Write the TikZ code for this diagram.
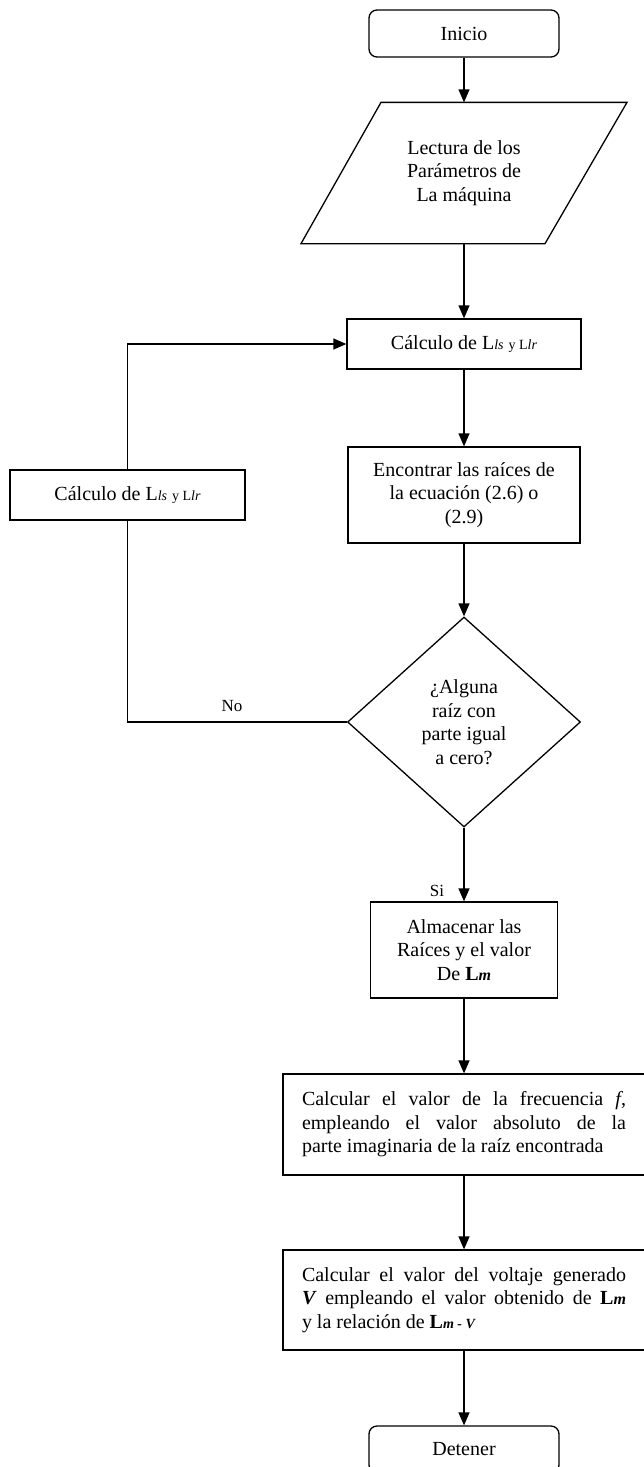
\documentclass[tikz,border=0pt]{standalone}
\usepackage{fontspec}
\setmainfont{Liberation Serif}
\usetikzlibrary{arrows.meta,shapes.geometric}
\newcommand{\chico}[1]{{\fontsize{14}{14}\selectfont #1}}
\newcommand{\ancho}[1]{\makebox[324pt][s]{#1}}
\begin{document}
\begin{tikzpicture}[x=1pt,y=-1pt,line width=1.3pt,
  every node/.style={font=\fontsize{20}{23.5}\selectfont},
  term/.style={draw,rounded corners=8pt,minimum width=190pt,minimum height=47pt},
  caja/.style={draw,align=center,inner sep=4pt},
  datos/.style={minimum width=246pt,minimum height=140pt,align=center},
  rombo/.style={draw,diamond,minimum width=233pt,minimum height=210pt,inner sep=0pt,align=center},
  flecha/.style={-{Triangle[length=13pt,width=11pt]}},
  etiq/.style={font=\fontsize{17}{17}\selectfont}]
  \useasboundingbox (0,0) rectangle (644,1467);
  \node[term] (ini) at (464,33.5) {Inicio};
  \node[datos] (lect) at (464,173) {Lectura de los\\Parámetros de\\La máquina};
  \draw ([xshift=-83pt]lect.north) -- ([xshift=163pt]lect.north) -- ([xshift=81pt]lect.south)
    -- ([xshift=-163pt]lect.south) -- cycle;
  \node[caja,minimum width=234pt,minimum height=50pt] (calc1) at (464,344) {Cálculo de L\chico{\itshape ls} \chico{y L\itshape lr}};
  \node[caja,minimum width=235pt,minimum height=50pt] (calc2) at (127.5,495) {Cálculo de L\chico{\itshape ls} \chico{y L\itshape lr}};
  \node[caja,minimum width=232pt,minimum height=96pt] (enc) at (464,495) {Encontrar las raíces de\\la ecuación (2.6) o\\(2.9)};
  \node[rombo] (dec) at (464,722) {¿Alguna\\raíz con\\parte igual\\a cero?};
  \node[etiq] (no) at (232,706) {No};
  \node[etiq] (si) at (437,891) {Si};
  \node[caja,minimum width=187pt,minimum height=96pt] (alm) at (464,950) {Almacenar las\\Raíces y el valor\\De \textbf{L}{\fontsize{16}{16}\selectfont\bfseries\itshape m}};
  \node[caja,minimum width=362pt,minimum height=101pt,align=left] (frec) at (464,1124.5)
    {\ancho{Calcular el valor de la frecuencia \textit{f},}\\\ancho{empleando el valor absoluto de la}\\parte imaginaria de la raíz encontrada};
  \node[caja,minimum width=362pt,minimum height=100pt,align=left] (volt) at (464,1300)
    {\ancho{Calcular el valor del voltaje generado}\\\ancho{\textbf{\textit{V}} empleando el valor obtenido de \textbf{L}{\fontsize{16}{16}\selectfont\bfseries\itshape m}}\\y la relación de \textbf{L}\chico{\bfseries\itshape m - V}};
  \node[term] (det) at (464,1449.5) {Detener};
  \foreach \a/\b in {ini/lect,lect/calc1,calc1/enc,enc/dec,dec/alm,alm/frec,frec/volt,volt/det}
    \draw[flecha] (\a.south) -- (\b.north);
  \draw (dec.west) -| (calc2.south);
  \draw[flecha] (calc2.north) |- (calc1.west);
\end{tikzpicture}
\end{document}
